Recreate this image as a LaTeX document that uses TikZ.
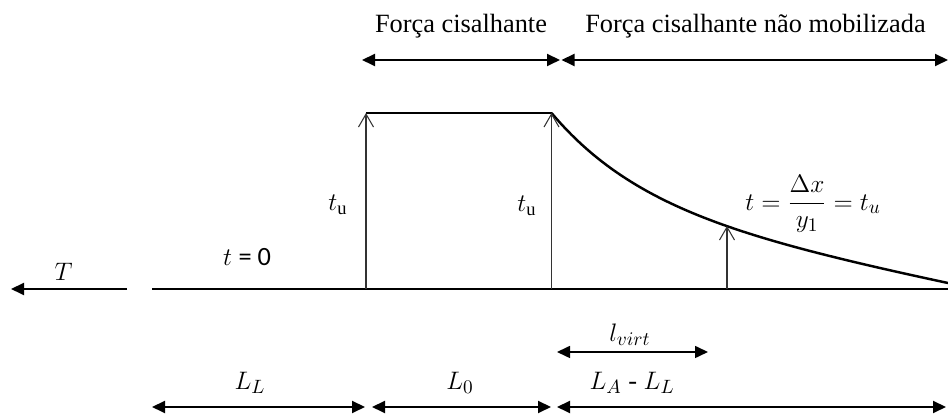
\documentclass[tikz,border=0pt]{standalone}
\usepackage{amsmath}
\usepackage{fontspec}
\setmainfont{Liberation Serif}
\newfontfamily\calibrifont{Carlito}
\usepackage{tikz}
\usetikzlibrary{arrows.meta}

\begin{document}
\begin{tikzpicture}[
  line width=1.1pt,
  dim/.style={{Triangle[length=2.6mm,width=2.4mm]}-{Triangle[length=2.6mm,width=2.4mm]}, line width=1.1pt},
  shear/.style={-{Straight Barb[length=2.6mm,width=3mm]}, line width=0.6pt, black!80},
  lbl/.style={font=\fontsize{15}{18}\selectfont, inner sep=1pt},
]
\useasboundingbox (0,0) rectangle (18.96,8.38);

%--- POINTS ON THE BASE LINE ---
\coordinate (O)   at (3.04,2.60);
\coordinate (E)   at (18.96,2.60);
\coordinate (A1)  at (7.32,2.60);
\coordinate (A2)  at (11.03,2.60);
\coordinate (A3)  at (14.54,2.60);
\coordinate (A1t) at (7.32,6.12);
\coordinate (A2t) at (11.03,6.12);
\coordinate (A3t) at (14.54,3.86);

%--- PULL T ---
\coordinate (Ts) at (2.54,2.60);
\coordinate (Te) at (0.22,2.60);
\draw[-{Triangle[length=2.6mm,width=2.4mm]}] (Ts) -- (Te);
\node[lbl] (T) at (1.27,2.94) {$T$};

%--- BASE LINE AND SHEAR DIAGRAM ---
\draw (O) -- (E);
\draw[line width=1.4pt] (A1t) -- (A2t);
\draw[line width=1.4pt] (A2t)
  plot[domain=0:7.93, samples=80] ({11.03+\x},{6.12-0.2*\x-1.84*(1-exp(-\x/1.86))});
\draw[shear] (A1) -- (A1t);
\draw[shear] (A2) -- (A2t);
\draw[shear] (A3) -- (A3t);

%--- LABELS ---
\node[lbl] (t0)  at (4.94,3.24)  {$t$ {\calibrifont = 0}};
\node[lbl] (tu1) at (6.76,4.28)  {$t_{\mathrm{u}}$};
\node[lbl] (tu2) at (10.54,4.26) {$t_{\mathrm{u}}$};
\node[lbl] (eq)  at (16.26,4.30) {$t=\dfrac{\Delta x}{y_1}=t_u$};

%--- TOP ZONES ---
\coordinate (Z0) at (7.24,7.18);
\coordinate (Z1) at (11.20,7.18);
\coordinate (Z2) at (11.23,7.18);
\coordinate (Z3) at (18.96,7.18);
\draw[dim] (Z0) -- (Z1);
\draw[dim] (Z2) -- (Z3);
\node[lbl, anchor=base] (mob)  at (9.22,7.72)  {Força cisalhante};
\node[lbl, anchor=base] (nmob) at (15.11,7.72) {Força cisalhante não mobilizada};

%--- VIRTUAL LENGTH ---
\coordinate (V0) at (11.14,1.34);
\coordinate (V1) at (14.16,1.34);
\draw[dim, line width=0.9pt] (V0) -- (V1);
\node[lbl] (lv) at (12.60,1.68) {$l_{virt}$};

%--- LENGTHS ---
\coordinate (L0) at (3.04,0.24);
\coordinate (L1) at (7.30,0.24);
\coordinate (L2) at (7.44,0.24);
\coordinate (L3) at (11.02,0.24);
\coordinate (L4) at (11.14,0.24);
\coordinate (L5) at (18.92,0.24);
\draw[dim] (L0) -- (L1);
\draw[dim] (L2) -- (L3);
\draw[dim] (L4) -- (L5);
\node[lbl] (LL) at (5.00,0.72)  {$L_L$};
\node[lbl] (LO) at (9.20,0.72)  {$L_0$};
\node[lbl] (LA) at (12.64,0.72) {$L_A$ - $L_L$};
\end{tikzpicture}
\end{document}
